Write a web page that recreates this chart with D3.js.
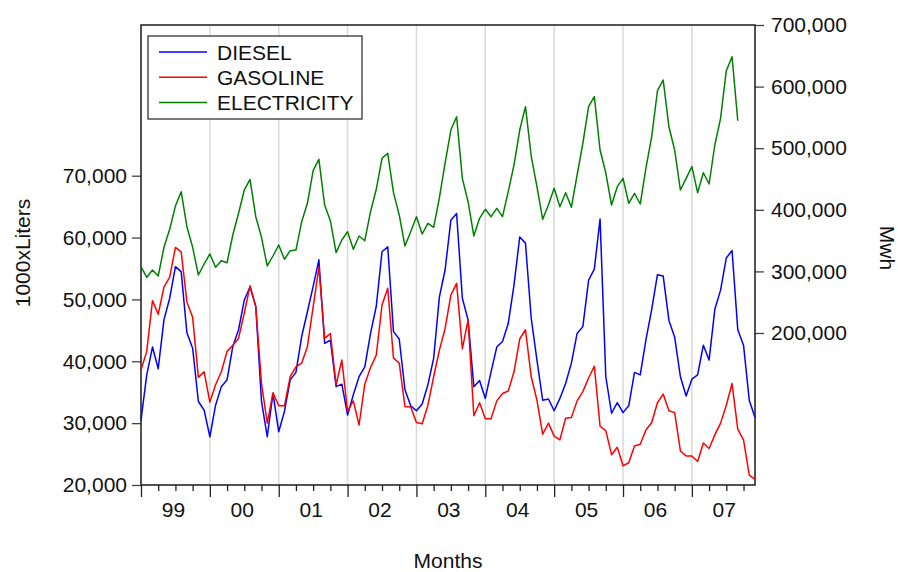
<!DOCTYPE html>
<html><head><meta charset="utf-8">
<script src="https://cdn.jsdelivr.net/npm/d3@7"></script>
<style>
body{margin:0;background:#fff;}
svg{display:block;}
text{font-family:"Liberation Sans",Arial,sans-serif;fill:#111;}
</style>
</head><body>
<svg id="c" width="898" height="572"></svg>
<script>
// Monthly data, Jan 1999 .. Dec 2007
const yearLabels = ["99","00","01","02","03","04","05","06","07"];
const seriesNames = ["DIESEL","GASOLINE","ELECTRICITY"];
const leftTicks = [20000,30000,40000,50000,60000,70000];
const rightTicks = [200000,300000,400000,500000,600000,700000];

const diesel = [
 30500,37800,42300,38800,46700,50200,55300,54500,44600,42100,33500,32100,
 27800,32900,35900,37000,42400,45100,49900,52000,48900,33500,27800,34800,
 28600,31900,37000,38200,44000,48000,52100,56400,42900,43400,35900,36300,
 31300,34600,37500,39100,44500,48900,57700,58500,44800,43600,35400,32800,
 32000,33100,36200,40500,50400,54800,62800,63900,50200,46700,35900,36900,
 34000,38300,42300,43200,46100,52300,60100,59100,47000,40200,33700,33900,
 32000,34000,36400,39700,44500,45600,53100,54900,63000,37500,31600,33300,
 31700,32800,38200,37800,43500,48400,54000,53800,46600,43900,37500,34400,
 37100,37800,42600,40200,48400,51500,56700,57900,45100,42600,33700,30900
];
const gasoline = [
 38600,41600,49800,47600,52000,53600,58400,57700,49600,47100,37400,38300,
 33400,36200,38300,41600,42600,43700,47800,52200,48800,36400,30000,34900,
 32800,32800,37500,39100,39700,42400,48800,55200,43700,44500,36200,40200,
 31900,33600,29700,36300,39000,41000,49100,51800,40500,39700,32700,32600,
 30100,29900,32900,37500,41800,45300,50700,52600,42000,46700,31200,33300,
 30700,30700,33600,34800,35200,38300,43600,45100,37500,33700,28200,30000,
 27900,27300,30800,30900,33600,35100,37300,39200,29500,28800,24900,26100,
 23100,23600,26300,26600,28900,30100,33300,34700,32000,31700,25500,24700,
 24700,23800,26800,25900,28100,30000,32900,36400,29000,27300,21600,20900
];
const electricity = [
 307600,290400,302300,292500,339100,368300,406200,429400,372600,339100,294200,312000,
 328300,306700,317400,314100,359100,394300,432100,449500,388800,355400,308800,325000,
 342900,319600,333600,334700,380700,410600,463500,482000,407800,382300,330400,351000,
 364500,335900,357500,349800,396900,433300,483600,491700,427800,391600,341200,364500,
 388800,360700,378100,371600,419200,476000,529500,551100,451100,413100,357500,386200,
 400800,388800,402400,388800,429400,472700,529500,567400,487300,437500,384600,407800,
 434900,405000,427800,404100,456500,508000,567400,583600,497100,459700,407800,437500,
 451100,410600,426800,409400,467900,518700,593300,610700,534900,497100,432100,451100,
 470000,427800,460200,441900,505200,548500,625800,648500,544600
];

const svg = d3.select("#c");
const L = 141, R = 755, T = 25, B = 485;
const nMonths = diesel.length;
const x = d3.scaleLinear().domain([0, nMonths - 1]).range([L, R]);
const yL = d3.scaleLinear().domain([20000, 94362]).range([B, T]);
const yR = d3.scaleLinear().domain([-46753, 700000]).range([B, T]);

// vertical year gridlines
const yearStarts = d3.range(12, nMonths, 12);
svg.append("g").selectAll("line").data(yearStarts).join("line")
  .attr("x1", d => x(d)).attr("x2", d => x(d))
  .attr("y1", T).attr("y2", B)
  .attr("stroke", "#d9d9d9").attr("stroke-width", 1.5);

// bottom axis: major (years) and minor (quarters) ticks
const majors = d3.range(0, nMonths, 12);
const minors = d3.range(0, nMonths, 3).filter(d => d % 12 !== 0);
const gMaj = svg.append("g").attr("transform", `translate(0,${B})`)
  .call(d3.axisBottom(x).tickValues(majors).tickSize(12).tickSizeOuter(0).tickFormat(""));
const gMin = svg.append("g").attr("transform", `translate(0,${B})`)
  .call(d3.axisBottom(x).tickValues(minors).tickSize(6).tickSizeOuter(0).tickFormat(""));
[gMaj, gMin].forEach(g => {
  g.select(".domain").remove();
  g.selectAll(".tick line").attr("stroke", "#222").attr("stroke-width", 1.3);
});
svg.append("g").selectAll("text").data(yearLabels).join("text")
  .attr("x", (d, i) => x(i * 12 + 5.65)).attr("y", 517)
  .attr("text-anchor", "middle").attr("font-size", 21).text(d => d);

// left axis
const gl = svg.append("g").attr("transform", `translate(${L},0)`)
  .call(d3.axisLeft(yL).tickValues(leftTicks).tickSize(9).tickPadding(5).tickFormat(d3.format(",")));
gl.select(".domain").remove();
gl.selectAll(".tick line").attr("stroke", "#444").attr("stroke-width", 1.3);
gl.selectAll(".tick text").attr("font-size", 21).attr("fill", "#111")
  .attr("font-family", "Liberation Sans, Arial, sans-serif");

// right axis
const gr = svg.append("g").attr("transform", `translate(${R},0)`)
  .call(d3.axisRight(yR).tickValues(rightTicks).tickSize(9).tickPadding(7).tickFormat(d3.format(",")));
gr.select(".domain").remove();
gr.selectAll(".tick line").attr("stroke", "#444").attr("stroke-width", 1.3);
gr.selectAll(".tick text").attr("font-size", 21).attr("fill", "#111")
  .attr("font-family", "Liberation Sans, Arial, sans-serif");

// frame
svg.append("rect").attr("x", L).attr("y", T).attr("width", R - L).attr("height", B - T)
  .attr("fill", "none").attr("stroke", "#1a1a1a").attr("stroke-width", 1.5);

// series lines
const lineL = d3.line().x((d, i) => x(i)).y(d => yL(d));
const lineR = d3.line().x((d, i) => x(i)).y(d => yR(d));
const colors = ["#0000ff", "#ff0000", "#008000"];
svg.append("path").datum(diesel).attr("d", lineL).attr("fill", "none")
  .attr("stroke", colors[0]).attr("stroke-width", 1.5).attr("stroke-linejoin", "round");
svg.append("path").datum(gasoline).attr("d", lineL).attr("fill", "none")
  .attr("stroke", colors[1]).attr("stroke-width", 1.5).attr("stroke-linejoin", "round");
svg.append("path").datum(electricity).attr("d", lineR).attr("fill", "none")
  .attr("stroke", colors[2]).attr("stroke-width", 1.5).attr("stroke-linejoin", "round");

// legend
const lg = svg.append("g");
lg.append("rect").attr("x", 148).attr("y", 36).attr("width", 214).attr("height", 83)
  .attr("fill", "#fff").attr("stroke", "#222").attr("stroke-width", 1.2);
seriesNames.forEach((n, i) => {
  const yy = 52 + i * 25.3;
  lg.append("line").attr("x1", 159).attr("x2", 207).attr("y1", yy).attr("y2", yy)
    .attr("stroke", colors[i]).attr("stroke-width", 1.5);
  lg.append("text").attr("x", 217).attr("y", yy + 7.5).attr("font-size", 21).text(n);
});

// axis titles
svg.append("text").attr("transform", "translate(30,253) rotate(-90)")
  .attr("text-anchor", "middle").attr("font-size", 21).text("1000xLiters");
svg.append("text").attr("transform", "translate(880,248) rotate(90)")
  .attr("text-anchor", "middle").attr("font-size", 21).text("Mwh");
svg.append("text").attr("x", 448).attr("y", 568)
  .attr("text-anchor", "middle").attr("font-size", 21).text("Months");
</script>
</body></html>
